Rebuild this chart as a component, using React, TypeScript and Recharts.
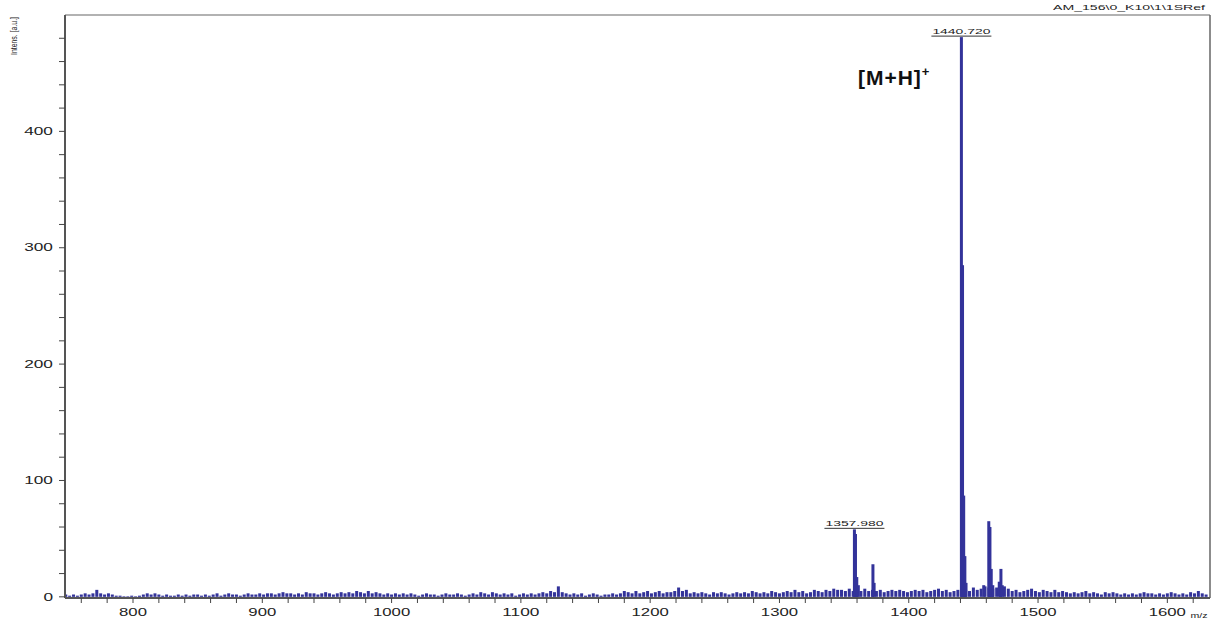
import React from "react";
import {
  ComposedChart,
  Bar,
  XAxis,
  YAxis,
  ReferenceLine,
  ReferenceDot,
} from "recharts";

// baseline noise, sampled every 3 m/z starting at 748
const NOISE_START = 748;
const NOISE_STEP = 3;
const noise = [
  2, 1, 2, 1, 2, 3, 2, 3, 6, 3, 2, 3, 2, 1, 1, 0.5, 0.5, 1, 0.5, 1,
  2, 3, 2, 3, 2, 1, 2, 1, 1, 2, 1, 2, 1, 2, 2, 1, 2, 1, 2, 3,
  1, 2, 3, 2, 2, 1, 2, 3, 2, 2, 3, 2, 3, 3, 2, 3, 4, 3, 3, 2,
  3, 2, 4, 3, 3, 2, 3, 4, 3, 2, 3, 4, 3, 4, 3, 5, 4, 3, 5, 3,
  4, 3, 2, 3, 2, 3, 2, 3, 2, 3, 2, 1, 2, 3, 2, 2, 1, 2, 3, 2,
  2, 3, 2, 1, 2, 3, 2, 4, 3, 2, 4, 3, 2, 3, 2, 3, 1, 2, 3, 2,
  3, 2, 3, 4, 3, 5, 4, 9, 4, 3, 2, 3, 2, 3, 1, 2, 3, 2, 1, 2,
  2, 3, 2, 3, 5, 4, 3, 5, 3, 4, 5, 3, 4, 5, 3, 4, 4, 5, 8, 5,
  6, 3, 4, 3, 4, 3, 2, 4, 3, 4, 3, 2, 3, 4, 3, 4, 3, 5, 4, 3,
  4, 3, 5, 4, 3, 4, 5, 4, 6, 4, 5, 3, 4, 6, 5, 4, 6, 5, 7, 6,
  6, 5, 7, 5, 6, 5, 7, 5, 6, 5, 6, 4, 5, 6, 5, 6, 5, 4, 5, 6,
  5, 6, 4, 5, 6, 7, 5, 6, 4, 5, 6, 5, 6, 5, 8, 6, 7, 9, 8, 7,
  8, 6, 9, 7, 5, 6, 4, 5, 6, 7, 5, 4, 6, 5, 4, 6, 4, 5, 4, 3,
  4, 3, 4, 5, 3, 4, 3, 2, 4, 3, 4, 3, 2, 3, 2, 3, 2, 3, 4, 3,
  3, 2, 3, 2, 3, 4, 3, 2, 3, 2, 4, 3, 5, 3, 2,
];

// resolved peaks
const peakMz = [
  1357.98, 1358.8, 1359.8, 1361.0, 1372.3, 1373.2,
  1440.72, 1441.6, 1442.5, 1443.4, 1444.3,
  1458.0, 1461.9, 1462.8, 1463.8, 1465.0, 1470.0, 1471.3, 1472.3,
];
const peakIntensity = [
  58, 54, 17, 10, 28, 12,
  481, 285, 87, 35, 12,
  10, 65, 60, 24, 10, 13, 24, 10,
];

const labelledMz = [1357.98, 1440.72];
const labelledIntensity = [58, 481];
const labelledText = ["1357.980", "1440.720"];

const xTicks = [
  760, 780, 800, 820, 840, 860, 880, 900, 920, 940, 960, 980, 1000, 1020, 1040,
  1060, 1080, 1100, 1120, 1140, 1160, 1180, 1200, 1220, 1240, 1260, 1280, 1300,
  1320, 1340, 1360, 1380, 1400, 1420, 1440, 1460, 1480, 1500, 1520, 1540, 1560,
  1580, 1600, 1620,
];
const yTicks = [
  0, 20, 40, 60, 80, 100, 120, 140, 160, 180, 200, 220, 240, 260, 280, 300, 320,
  340, 360, 380, 400, 420, 440, 460, 480,
];

const FONT = "'Liberation Sans', Arial, sans-serif";
const BLUE = "#33339a";

const data = [
  ...noise.map((v, i) => ({ mz: NOISE_START + i * NOISE_STEP, intensity: v })),
  ...peakMz.map((m, i) => ({ mz: m, intensity: peakIntensity[i] })),
];

// fixed-width stick centred on the bar's computed position
function Stick({ x, y, width, height }: any) {
  if (height == null || !isFinite(height)) return <g />;
  const cx = x + width / 2;
  return <rect x={cx - 1.5} y={y} width={3} height={Math.max(height, 0.5)} fill={BLUE} />;
}

function XTick({ x, y, payload }: any) {
  const v = payload.value;
  if (v % 100 !== 0) return <g />;
  const s = String(v);
  return (
    <text x={x} y={y} dy="0.71em" textAnchor="middle" fontSize={10.5} fill="#222"
      fontFamily={FONT} textLength={s.length * 9.3} lengthAdjust="spacingAndGlyphs">
      {s}
    </text>
  );
}

function YTick({ x, y, payload }: any) {
  const v = payload.value;
  if (v % 100 !== 0) return <g />;
  const s = String(v);
  return (
    <text x={x} y={y} dy="0.355em" textAnchor="end" fontSize={10.5} fill="#222"
      fontFamily={FONT} textLength={s.length * 9.6} lengthAdjust="spacingAndGlyphs">
      {s}
    </text>
  );
}

function PeakTag(text: string) {
  return ({ viewBox }: any) => {
    const cx = viewBox.x + viewBox.width / 2;
    const cy = viewBox.y + viewBox.height / 2;
    return (
      <g>
        <text x={cx} y={cy - 3} textAnchor="middle" fontSize={7.5} fill="#222"
          fontFamily={FONT} textLength={58} lengthAdjust="spacingAndGlyphs">
          {text}
        </text>
        <line x1={cx - 30} x2={cx + 30} y1={cy - 1} y2={cy - 1} stroke="#333" strokeWidth={1} />
      </g>
    );
  };
}

function IonTag({ viewBox }: any) {
  const x = viewBox.x + viewBox.width / 2;
  const y = viewBox.y + viewBox.height / 2;
  return (
    <text x={x} y={y} fontSize={21} fontWeight="bold" fill="#111" fontFamily={FONT} letterSpacing={1}>
      [M+H]
      <tspan fontSize={13} dy={-9}>+</tspan>
    </text>
  );
}

function FileTag({ viewBox }: any) {
  return (
    <text x={viewBox.x + viewBox.width - 5} y={viewBox.y - 5} textAnchor="end" fontSize={8}
      fill="#222" fontFamily={FONT} textLength={152} lengthAdjust="spacingAndGlyphs">
      {"AM_156\\0_K10\\1\\1SRef"}
    </text>
  );
}

function YTitle({ viewBox }: any) {
  return (
    <text transform={`translate(${viewBox.x + 17},36) rotate(-90)`} textAnchor="middle" fontSize={8.5}
      fill="#222" fontFamily={FONT} textLength={38} lengthAdjust="spacingAndGlyphs">
      Intens. [a.u.]
    </text>
  );
}

function XTitle({ viewBox }: any) {
  return (
    <text x={viewBox.x + viewBox.width - 11} y={viewBox.y + 20} textAnchor="middle" fontSize={8}
      fill="#222" fontFamily={FONT} textLength={17} lengthAdjust="spacingAndGlyphs">
      m/z
    </text>
  );
}

export default function App() {
  return (
    <div style={{ position: "absolute", left: 0, top: 0, background: "#fff" }}>
      <ComposedChart width={1213} height={622} data={data}
        margin={{ top: 15, right: 3, bottom: 3, left: 0 }}>
        <XAxis type="number" dataKey="mz" domain={[747.4, 1633]} ticks={xTicks}
          allowDataOverflow interval={0} height={21}
          axisLine={{ stroke: "#555", strokeWidth: 2 }}
          tickLine={{ stroke: "#444" }} tickSize={5} tickMargin={6}
          tick={<XTick />} label={{ content: <XTitle /> }} />
        <YAxis type="number" domain={[-1, 500]} ticks={yTicks} interval={0} width={65}
          allowDataOverflow
          axisLine={{ stroke: "#555", strokeWidth: 2 }}
          tickLine={{ stroke: "#444" }} tickSize={6} tickMargin={6}
          tick={<YTick />} label={{ content: <YTitle /> }} />
        <ReferenceLine y={500} stroke="#999" strokeWidth={1.5} label={{ content: <FileTag /> }} />
        <ReferenceLine x={1633} stroke="#666" strokeWidth={1.5} />
        <Bar dataKey="intensity" fill={BLUE} barSize={3} shape={<Stick />} isAnimationActive={false} />
        {labelledMz.map((m, i) => (
          <ReferenceDot key={m} x={m} y={labelledIntensity[i]} r={1} fill="none" stroke="none"
            label={{ content: PeakTag(labelledText[i]) }} />
        ))}
        <ReferenceDot x={1360.7} y={440} r={1} fill="none" stroke="none" label={{ content: <IonTag /> }} />
      </ComposedChart>
    </div>
  );
}
